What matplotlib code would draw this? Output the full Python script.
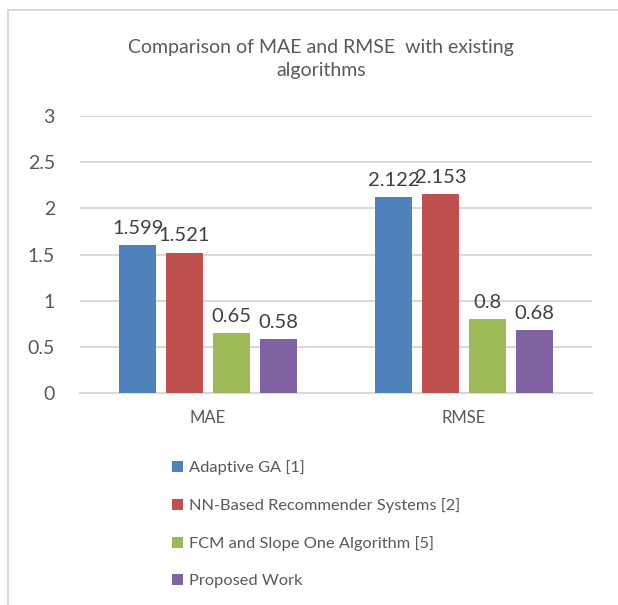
import matplotlib
matplotlib.use("Agg")
import matplotlib.pyplot as plt
from matplotlib.lines import Line2D

# data
categories = ["MAE", "RMSE"]
series_names = ["Adaptive GA [1]", "NN-Based Recommender Systems [2]",
                "FCM and Slope One Algorithm [5]", "Proposed Work"]
adaptive_ga = [1.599, 2.122]
nn_based = [1.521, 2.153]
fcm_slope = [0.65, 0.8]
proposed = [0.58, 0.68]
colors = ["#4f81bd", "#c0504d", "#9bbb59", "#8064a2"]

TEXT = "#595959"
GRID = "#d9d9d9"
plt.rcParams["font.family"] = ["Lato", "DejaVu Sans"]

W, H = 618, 605
fig = plt.figure(figsize=(W / 100, H / 100), dpi=100)

# outer chart border (left + top)
fig.add_artist(Line2D([8 / W, 8 / W], [0, 1 - 10 / H], transform=fig.transFigure,
                      color=GRID, lw=1.5))
fig.add_artist(Line2D([8 / W, 1], [1 - 10 / H, 1 - 10 / H], transform=fig.transFigure,
                      color=GRID, lw=1.5))

ax = fig.add_axes([80 / W, 212 / H, 512 / W, 277 / H])

all_series = [adaptive_ga, nn_based, fcm_slope, proposed]
step = 0.183
width = 0.145
x = list(range(len(categories)))
for i, vals in enumerate(all_series):
    off = (i - 1.5) * step
    xs = [xi + off for xi in x]
    bars = ax.bar(xs, vals, width, color=colors[i], label=series_names[i], zorder=3)
    for b, v in zip(bars, vals):
        ax.annotate(f"{v:g}", (b.get_x() + b.get_width() / 2, v),
                    xytext=(0, 6), textcoords="offset points",
                    ha="center", va="bottom", fontsize=14.5, color="#404040")

ax.set_xlim(-0.5, 1.5)
ax.set_ylim(0, 3)
ax.set_yticks([0, 0.5, 1, 1.5, 2, 2.5, 3])
ax.set_yticklabels(["0", "0.5", "1", "1.5", "2", "2.5", "3"])
ax.set_xticks(x)
ax.set_xticklabels(categories)
ax.tick_params(axis="y", length=0, pad=18, labelsize=14, labelcolor=TEXT)
ax.tick_params(axis="x", length=0, pad=12, labelsize=12, labelcolor=TEXT)
ax.yaxis.grid(True, color=GRID, lw=1.5, zorder=0)
for s in ["top", "right", "left"]:
    ax.spines[s].set_visible(False)
ax.spines["bottom"].set_color(GRID)
ax.spines["bottom"].set_linewidth(1.5)

fig.text(321 / W, 1 - 59 / H, "Comparison of MAE and RMSE  with existing\nalgorithms",
         ha="center", va="center", fontsize=14, color=TEXT, linespacing=1.45)

fig.legend(loc="upper left", bbox_to_anchor=(164 / W, 1 - 452 / H),
           frameon=False, fontsize=11.8, labelcolor=TEXT,
           handlelength=0.65, handleheight=0.65, handletextpad=0.35,
           labelspacing=1.4, borderpad=0)

fig.savefig("out.png", dpi=100)
